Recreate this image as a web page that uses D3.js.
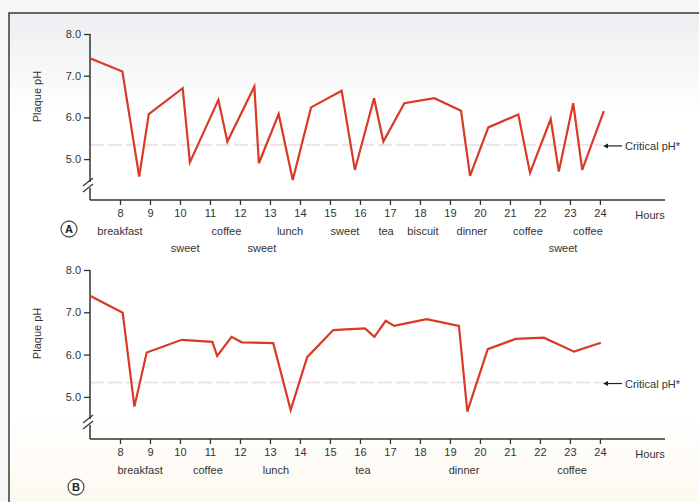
<!DOCTYPE html>
<html>
<head>
<meta charset="utf-8">
<script src="https://cdn.jsdelivr.net/npm/d3@7"></script>
<style>
  body { margin: 0; background: #f7f7f7; }
  svg { display: block; font-family: "Liberation Sans", Arial, sans-serif; }
</style>
</head>
<body>
<div id="chart"></div>
<script>
const width = 699;
const height = 502;

// hour of day, plaque pH
const topData = [
  [7.0, 7.42], [8.08, 7.10], [8.64, 4.58], [8.96, 6.08], [10.09, 6.70], [10.33, 4.92],
  [11.28, 6.42], [11.58, 5.42], [12.48, 6.74], [12.63, 4.90], [13.29, 6.08], [13.76, 4.50],
  [14.37, 6.24], [15.39, 6.64], [15.83, 4.74], [16.47, 6.46], [16.78, 5.42], [17.48, 6.34],
  [18.48, 6.46], [19.37, 6.16], [19.67, 4.60], [20.28, 5.76], [21.28, 6.07], [21.67, 4.67],
  [22.36, 5.96], [22.63, 4.70], [23.11, 6.34], [23.41, 4.74], [24.13, 6.15]
];
const bottomData = [
  [7.0, 7.39], [8.09, 6.99], [8.48, 4.77], [8.89, 6.05], [10.06, 6.35], [11.08, 6.30],
  [11.24, 5.97], [11.72, 6.42], [12.06, 6.29], [13.11, 6.27], [13.69, 4.69], [14.24, 5.94],
  [15.11, 6.58], [15.67, 6.60], [16.17, 6.62], [16.48, 6.42], [16.86, 6.80], [17.14, 6.68],
  [18.22, 6.84], [19.3, 6.68], [19.58, 4.65], [20.26, 6.13], [21.19, 6.37], [22.13, 6.40],
  [23.14, 6.07], [24.03, 6.28]
];

// label, hour position, row
const topMeals = [
  ["breakfast", 8, 0], ["sweet", 10.17, 1], ["coffee", 11.55, 0], ["sweet", 12.73, 1],
  ["lunch", 13.67, 0], ["sweet", 15.5, 0], ["tea", 16.87, 0], ["biscuit", 18.1, 0],
  ["dinner", 19.73, 0], ["coffee", 21.6, 0], ["sweet", 22.77, 1], ["coffee", 23.6, 0]
];
const bottomMeals = [
  ["breakfast", 8.67, 0], ["coffee", 10.93, 0], ["lunch", 13.2, 0],
  ["tea", 16.1, 0], ["dinner", 19.47, 0], ["coffee", 23.07, 0]
];

const hourTicks = d3.range(8, 25);
const phTicks = [5, 6, 7, 8];
const criticalPH = 5.34;

const svg = d3.select("#chart")
  .append("svg")
  .attr("width", width)
  .attr("height", height);

const defs = svg.append("defs");
const grad = defs.append("linearGradient")
  .attr("id", "bg")
  .attr("x1", 0).attr("y1", 0).attr("x2", 0).attr("y2", 1);
grad.append("stop").attr("offset", "0%").attr("stop-color", "#eceef1");
grad.append("stop").attr("offset", "20%").attr("stop-color", "#ffffff");
grad.append("stop").attr("offset", "80%").attr("stop-color", "#ffffff");
grad.append("stop").attr("offset", "100%").attr("stop-color", "#fdf8ee");

svg.append("rect")
  .attr("x", 0).attr("y", 0)
  .attr("width", width).attr("height", height)
  .attr("fill", "#f6f6f6");

svg.append("rect")
  .attr("x", 9).attr("y", 13)
  .attr("width", width).attr("height", height)
  .attr("fill", "url(#bg)")
  .attr("stroke", "#3a3a3a")
  .attr("stroke-width", 1.5);

const x = d3.scaleLinear()
  .domain([7, 26.17])
  .range([90, 665]);

function drawPanel(cfg) {
  const y = d3.scaleLinear()
    .domain([8, 5])
    .range([cfg.top, cfg.top + cfg.step * 3]);

  const g = svg.append("g");

  // critical pH line
  g.append("line")
    .attr("x1", x(7)).attr("x2", x(24.1))
    .attr("y1", y(criticalPH)).attr("y2", y(criticalPH))
    .attr("stroke", "#ece4ec")
    .attr("stroke-width", 2)
    .attr("stroke-dasharray", "14 4");

  // y axis
  const yAxis = d3.axisLeft(y)
    .tickValues(phTicks)
    .tickFormat(d3.format(".1f"))
    .tickSize(6)
    .tickPadding(3);

  const ya = g.append("g")
    .attr("transform", `translate(${x(7)},0)`)
    .call(yAxis);
  ya.select(".domain").remove();
  ya.selectAll("line").attr("stroke", "#333").attr("stroke-width", 1.3);
  ya.selectAll("text").attr("font-size", 11).attr("fill", "#333");

  // axis line with break
  g.append("line")
    .attr("x1", x(7)).attr("x2", x(7))
    .attr("y1", y(8)).attr("y2", cfg.breakY - 3)
    .attr("stroke", "#333").attr("stroke-width", 1.5);
  g.append("line")
    .attr("x1", x(7)).attr("x2", x(7))
    .attr("y1", cfg.breakY + 3).attr("y2", cfg.axisY)
    .attr("stroke", "#333").attr("stroke-width", 1.5);
  [-3, 3].forEach(o => {
    g.append("line")
      .attr("x1", x(7) - 7).attr("y1", cfg.breakY + o + 4)
      .attr("x2", x(7) + 3).attr("y2", cfg.breakY + o - 4)
      .attr("stroke", "#333").attr("stroke-width", 1.3);
  });

  // x axis
  const xAxis = d3.axisBottom(x)
    .tickValues(hourTicks)
    .tickFormat(d3.format("d"))
    .tickSize(5)
    .tickPadding(4);
  const xa = g.append("g")
    .attr("transform", `translate(0,${cfg.axisY})`)
    .call(xAxis);
  xa.select(".domain")
    .attr("d", `M${x(7)},0H${x(26.17)}`)
    .attr("stroke", "#333").attr("stroke-width", 1.5);
  xa.selectAll("line").attr("stroke", "#333").attr("stroke-width", 1.3);
  xa.selectAll("text").attr("font-size", 11).attr("fill", "#333");

  g.append("text")
    .attr("x", 650).attr("y", cfg.axisY + 19)
    .attr("text-anchor", "middle")
    .attr("font-size", 11).attr("fill", "#333")
    .text("Hours");

  // y label
  g.append("text")
    .attr("transform", `translate(41,${y(6.5)}) rotate(-90)`)
    .attr("text-anchor", "middle")
    .attr("font-size", 11).attr("fill", "#333")
    .text("Plaque pH");

  // pH curve
  g.append("path")
    .datum(cfg.data)
    .attr("fill", "none")
    .attr("stroke", "#d83a23")
    .attr("stroke-width", 2.2)
    .attr("stroke-linejoin", "miter")
    .attr("d", d3.line().x(d => x(d[0])).y(d => y(d[1])));

  // critical arrow + label
  const cy = y(criticalPH) + 1;
  g.append("line")
    .attr("x1", 606).attr("x2", 622)
    .attr("y1", cy).attr("y2", cy)
    .attr("stroke", "#222").attr("stroke-width", 1.2);
  g.append("path")
    .attr("d", `M603,${cy}L608,${cy - 2.5}L608,${cy + 2.5}Z`)
    .attr("fill", "#222");
  g.append("text")
    .attr("x", 625).attr("y", cy + 4)
    .attr("font-size", 11).attr("fill", "#333")
    .text("Critical pH*");

  // meal labels
  g.selectAll(".meal")
    .data(cfg.meals)
    .enter().append("text")
    .attr("class", "meal")
    .attr("x", d => x(d[1]))
    .attr("y", d => cfg.axisY + 35 + d[2] * 17)
    .attr("text-anchor", "middle")
    .attr("font-size", 11).attr("fill", "#333")
    .text(d => d[0]);

  // panel badge
  g.append("circle")
    .attr("cx", cfg.badgeX).attr("cy", cfg.badgeY)
    .attr("r", 8)
    .attr("fill", "#fff")
    .attr("stroke", "#555").attr("stroke-width", 1.3);
  g.append("text")
    .attr("x", cfg.badgeX).attr("y", cfg.badgeY + 4)
    .attr("text-anchor", "middle")
    .attr("font-size", 11).attr("font-weight", "bold").attr("fill", "#222")
    .text(cfg.badge);
}

drawPanel({
  data: topData, meals: topMeals, top: 34, step: 41.7,
  breakY: 185, axisY: 200, badge: "A", badgeX: 69, badgeY: 229
});
drawPanel({
  data: bottomData, meals: bottomMeals, top: 270, step: 42.3,
  breakY: 422, axisY: 439, badge: "B", badgeX: 76, badgeY: 487
});
</script>
</body>
</html>
